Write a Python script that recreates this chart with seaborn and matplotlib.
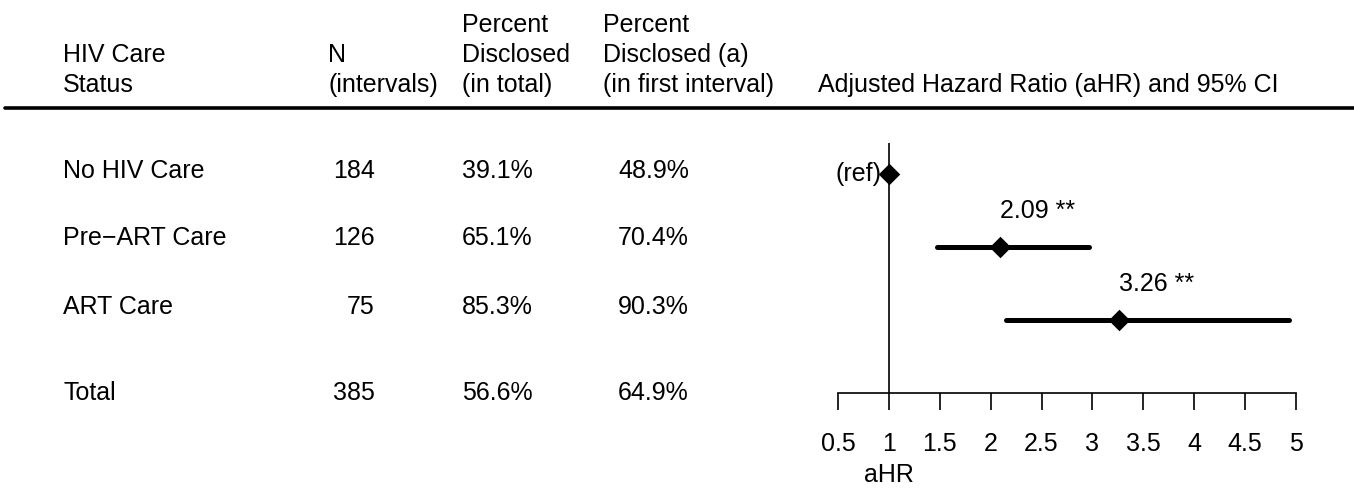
import numpy as np
import pandas as pd
import matplotlib
matplotlib.use('Agg')
import matplotlib.pyplot as plt
import matplotlib.transforms as mtransforms
import seaborn as sns

# table data
care_status = ['No HIV Care', 'Pre\u2212ART Care', 'ART Care', 'Total']
n_intervals = [184, 126, 75, 385]
pct_total = ['39.1%', '65.1%', '85.3%', '56.6%']
pct_first = ['48.9%', '70.4%', '90.3%', '64.9%']

# forest plot data
ahr = [1.0, 2.09, 3.26]
ci_low = [np.nan, 1.47, 2.15]
ci_high = [np.nan, 2.97, 4.93]
ahr_labels = ['(ref)', '2.09 **', '3.26 **']
x_ticks = [0.5, 1, 1.5, 2, 2.5, 3, 3.5, 4, 4.5, 5]

sns.set_theme(style='white')
plt.rcParams['font.family'] = ['Liberation Sans', 'DejaVu Sans']
plt.rcParams['text.color'] = 'black'
plt.rcParams['xtick.color'] = 'black'
plt.rcParams['xtick.labelcolor'] = 'black'

W, H = 1354, 491
fig = plt.figure(figsize=(W / 100, H / 100), dpi=100)
FS = 18


def px(x, y):
    return x / W, 1 - y / H


def ftext(x, y, s, **kw):
    fx, fy = px(x, y)
    fig.text(fx, fy, s, fontsize=FS, va='center', **kw)


# header
ftext(63, 55, 'HIV Care')
ftext(63, 85, 'Status')
ftext(328, 55, 'N')
ftext(328, 85, '(intervals)')
ftext(462, 25, 'Percent')
ftext(462, 55, 'Disclosed')
ftext(462, 85, '(in total)')
ftext(603, 25, 'Percent')
ftext(603, 55, 'Disclosed (a)')
ftext(603, 85, '(in first interval)')
ftext(818, 85, 'Adjusted Hazard Ratio (aHR) and 95% CI')

fig.add_artist(plt.Line2D([5 / W, 1.0], [1 - 108 / H] * 2, color='black', lw=2.6))

# table body
row_y = [171, 238, 307, 393]
for y, name, n, p1, p2 in zip(row_y, care_status, n_intervals, pct_total, pct_first):
    ftext(63, y, name)
    ftext(375, y, str(n), ha='right')
    ftext(462, y, p1)
    ftext(689, y, p2, ha='right')

# forest plot axes
left, right, top, bottom = 838, 1296, 143, 393
ax = fig.add_axes([left / W, 1 - bottom / H, (right - left) / W, (bottom - top) / H])
ax.set_facecolor('none')

df = pd.DataFrame({'ahr': ahr, 'lo': ci_low, 'hi': ci_high, 'row': [0, 1, 2]})
ax.hlines(df['row'], df['lo'], df['hi'], color='black', lw=3.6, capstyle='round')
sns.scatterplot(data=df, x='ahr', y='row', marker='D', s=120, color='black',
                edgecolor='black', linewidth=0, ax=ax, zorder=5)
ax.axvline(1, color='black', lw=1.2, zorder=1)

# annotations
ax.text(df['ahr'][0] - 0.07, 0, ahr_labels[0], ha='right', va='center', fontsize=FS)
for i in (1, 2):
    ax.text(df['ahr'][i], i - 0.5, ahr_labels[i], ha='left', va='center', fontsize=FS)

ax.set_xlim(0.5, 5)
ax.set_ylim(3.0, -0.425)
ax.set_xticks(x_ticks)
ax.set_xticklabels([f'{t:g}' for t in x_ticks], fontsize=FS)
ax.set_yticks([])
ax.set_xlabel('')
ax.set_ylabel('')
for s in ('left', 'top', 'right'):
    ax.spines[s].set_visible(False)
ax.spines['bottom'].set_color('black')
ax.spines['bottom'].set_linewidth(1.2)
ax.tick_params(axis='x', direction='out', length=12, width=1.2, color='black',
               pad=16, bottom=True)

trans = mtransforms.blended_transform_factory(ax.transData, fig.transFigure)
ax.text(1, 1 - 475 / H, 'aHR', transform=trans, ha='center', va='center', fontsize=FS)

fig.savefig('out.png', dpi=100)
